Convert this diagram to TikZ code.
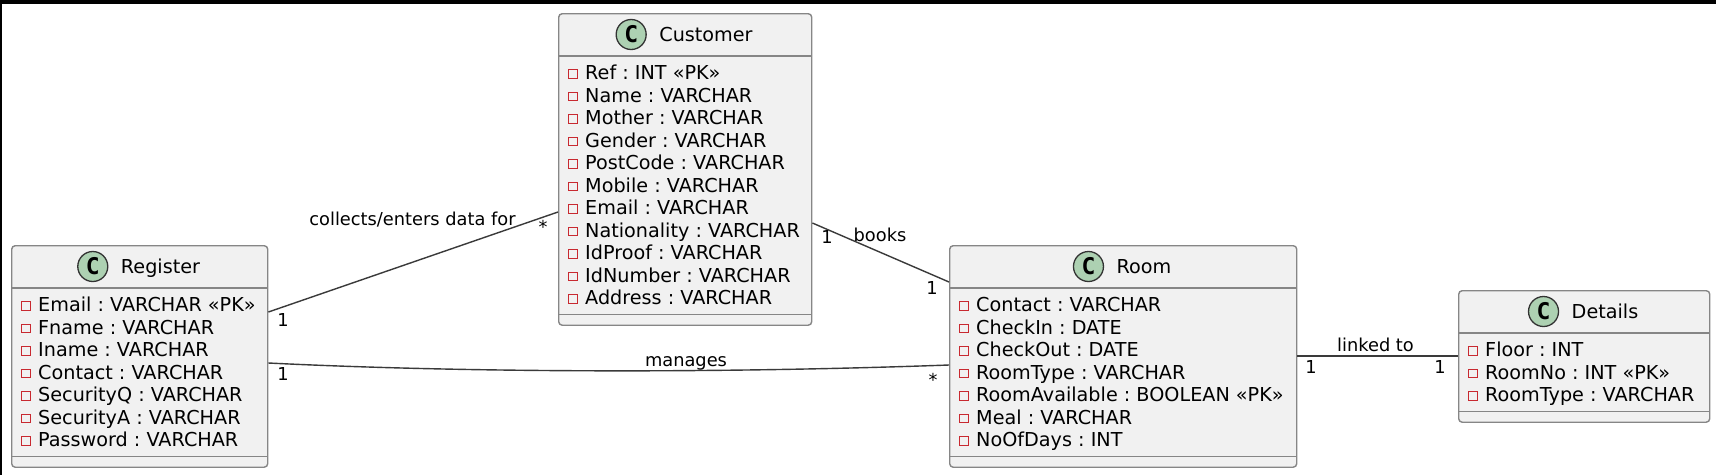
\documentclass[tikz,border=0pt]{standalone}
\usepackage{fontspec}
\setmainfont{DejaVu Sans}
\newfontfamily\iconfont{DejaVu Sans Mono Bold}
\usetikzlibrary{calc}
\definecolor{boxfill}{HTML}{F1F1F1}
\definecolor{boxline}{HTML}{868686}
\definecolor{iconfill}{HTML}{ADD1B2}
\definecolor{iconline}{HTML}{333333}
\definecolor{privred}{HTML}{C82930}
\definecolor{connline}{HTML}{3A3A3A}
\tikzset{
  classbox/.style={draw=boxline, line width=1.4pt, fill=boxfill, rounded corners=3.5pt, inner sep=0pt, anchor=north west},
  sepline/.style={draw=boxline, line width=1.4pt},
  attr/.style={inner sep=0pt, anchor=base west, font=\fontsize{19.2}{22}\selectfont\frenchspacing},
  ctitle/.style={inner sep=0pt, anchor=base, font=\fontsize{19.2}{22}\selectfont},
  cicon/.style={circle, draw=iconline, line width=1.3pt, fill=iconfill, minimum size=30pt, inner sep=0pt, font=\fontsize{23}{23}\iconfont},
  privsq/.style={draw=privred, line width=1.1pt, minimum size=8.5pt, inner sep=0pt},
  conn/.style={draw=connline, line width=1.4pt},
  lbl/.style={inner sep=0pt, anchor=base, font=\fontsize{17.8}{20}\selectfont\frenchspacing},
}
\begin{document}
\frenchspacing
\begin{tikzpicture}[x=1pt,y=-1pt]
\useasboundingbox (0,0) rectangle (1716,475);
\fill[white] (0,0) rectangle (1716,475);
\fill[black] (0,0) rectangle (1716,4);
\fill[black] (0,0) rectangle (2,475);

% ---------- Customer ----------
\node[classbox, minimum width=253pt, minimum height=311.5pt] (cust) at (558,13) {};
\draw[sepline] ($(cust.north west)+(0,43)$) -- ($(cust.north east)+(0,43)$);
\draw[sepline] ($(cust.north west)+(0,301.5)$) -- ($(cust.north east)+(0,301.5)$);
\node[ctitle] (cust-t) at (706,41.5) {Customer};
\coordinate (cust-h) at (684.5,34.5);
\node[cicon] (cust-i) at ($(cust-t.west |- cust-h)+(-28,0)$) {C};
\foreach \t [count=\i from 0] in {Ref : INT «PK», Name : VARCHAR, Mother : VARCHAR, Gender : VARCHAR, PostCode : VARCHAR, Mobile : VARCHAR, Email : VARCHAR, Nationality : VARCHAR, IdProof : VARCHAR, IdNumber : VARCHAR, Address : VARCHAR} {
  \node[privsq] (cust-s\i) at ({558+15},{13+59.5+1.5+22.5*\i}) {};
  \node[attr] (cust-a\i) at ({558+27},{13+59.5+7+22.5*\i}) {\t};
}

% ---------- Register ----------
\node[classbox, minimum width=256pt, minimum height=221.5pt] (reg) at (11,245) {};
\draw[sepline] ($(reg.north west)+(0,43)$) -- ($(reg.north east)+(0,43)$);
\draw[sepline] ($(reg.north west)+(0,211.5)$) -- ($(reg.north east)+(0,211.5)$);
\node[ctitle] (reg-t) at (160.5,273.5) {Register};
\coordinate (reg-h) at (139,266.5);
\node[cicon] (reg-i) at ($(reg-t.west |- reg-h)+(-28,0)$) {C};
\foreach \t [count=\i from 0] in {Email : VARCHAR «PK», Fname : VARCHAR, Iname : VARCHAR, Contact : VARCHAR, SecurityQ : VARCHAR, SecurityA : VARCHAR, Password : VARCHAR} {
  \node[privsq] (reg-s\i) at ({11+15},{245+59.5+1.5+22.5*\i}) {};
  \node[attr] (reg-a\i) at ({11+27},{245+59.5+7+22.5*\i}) {\t};
}

% ---------- Room ----------
\node[classbox, minimum width=347pt, minimum height=221.5pt] (room) at (949,245) {};
\draw[sepline] ($(room.north west)+(0,43)$) -- ($(room.north east)+(0,43)$);
\draw[sepline] ($(room.north west)+(0,211.5)$) -- ($(room.north east)+(0,211.5)$);
\node[ctitle] (room-t) at (1144,273.5) {Room};
\coordinate (room-h) at (1122.5,266.5);
\node[cicon] (room-i) at ($(room-t.west |- room-h)+(-28,0)$) {C};
\foreach \t [count=\i from 0] in {Contact : VARCHAR, CheckIn : DATE, CheckOut : DATE, RoomType : VARCHAR, RoomAvailable : BOOLEAN «PK», Meal : VARCHAR, NoOfDays : INT} {
  \node[privsq] (room-s\i) at ({949+15},{245+59.5+1.5+22.5*\i}) {};
  \node[attr] (room-a\i) at ({949+27},{245+59.5+7+22.5*\i}) {\t};
}

% ---------- Details ----------
\node[classbox, minimum width=251pt, minimum height=131.5pt] (det) at (1458,290) {};
\draw[sepline] ($(det.north west)+(0,43)$) -- ($(det.north east)+(0,43)$);
\draw[sepline] ($(det.north west)+(0,121.5)$) -- ($(det.north east)+(0,121.5)$);
\node[ctitle] (det-t) at (1605,318.5) {Details};
\coordinate (det-h) at (1583.5,311.5);
\node[cicon] (det-i) at ($(det-t.west |- det-h)+(-28,0)$) {C};
\foreach \t [count=\i from 0] in {Floor : INT, RoomNo : INT «PK», RoomType : VARCHAR} {
  \node[privsq] (det-s\i) at ({1458+15},{290+59.5+1.5+22.5*\i}) {};
  \node[attr] (det-a\i) at ({1458+27},{290+59.5+7+22.5*\i}) {\t};
}

% ---------- Connectors ----------
\draw[conn] ($(reg.north east)+(0,67)$) -- ($(cust.north west)+(0,199)$);
\draw[conn] ($(reg.north east)+(0,118)$) .. controls (450,372) and (700,374) .. ($(room.north west)+(0,120)$);
\draw[conn] ($(cust.north east)+(0,210)$) -- ($(room.north west)+(0,37)$);
\draw[conn] ($(room.north east)+(0,111)$) -- ($(det.north west)+(0,66)$);

% ---------- Labels ----------
\node[lbl] (l-collects) at (412.5,225.5) {collects/enters data for};
\node[lbl] (m-cust-star) at (543,233) {*};
\node[lbl] (m-reg-1a) at (283,326.5) {1};
\node[lbl] (m-reg-1b) at (283,380.5) {1};
\node[lbl] (l-manages) at (686,366) {manages};
\node[lbl] (m-room-star) at (933,386) {*};
\node[lbl] (m-cust-1) at (827,243.5) {1};
\node[lbl] (l-books) at (880,241) {books};
\node[lbl] (m-room-1) at (932,294.5) {1};
\node[lbl] (l-linked) at (1375.5,351) {linked to};
\node[lbl] (m-room-1b) at (1311,373.5) {1};
\node[lbl] (m-det-1) at (1440,373.5) {1};
\end{tikzpicture}
\end{document}
